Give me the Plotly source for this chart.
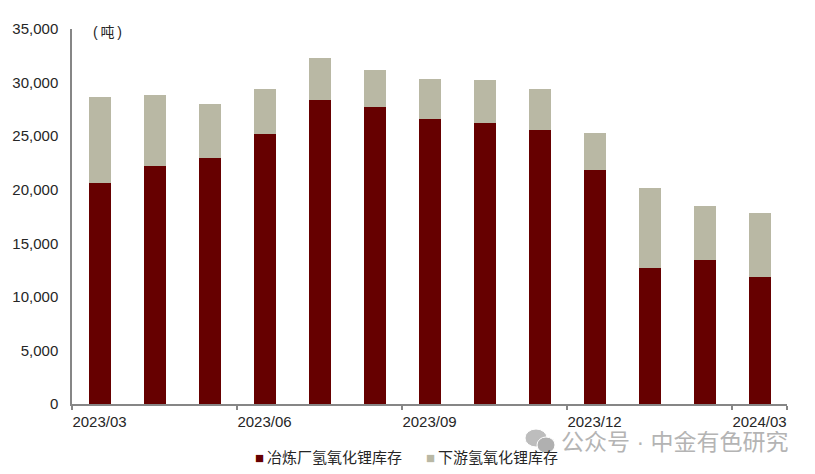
import plotly.graph_objects as go

months = ["2023/03","2023/04","2023/05","2023/06","2023/07","2023/08","2023/09","2023/10","2023/11","2023/12","2024/01","2024/02","2024/03"]
tick_labels = ["2023/03","2023/06","2023/09","2023/12","2024/03"]
smelter = [20600,22200,23000,25200,28400,27700,26600,26200,25600,21800,12700,13400,11900]
downstream = [8050,6650,5000,4200,3900,3500,3700,4000,3800,3500,7450,5100,5950]
name_a = "冶炼厂氢氧化锂库存"
name_b = "下游氢氧化锂库存"
RED = "#660000"
GREY = "#B9B8A4"
AX = "#868686"
TXT = "#262626"
LAT = "Liberation Sans, Arial, sans-serif"
CJK = "Liberation Sans, Noto Sans CJK SC, sans-serif"

fig = go.Figure()
fig.add_bar(x=months, y=smelter, name=name_a, marker=dict(color=RED, line=dict(width=0)), width=0.4)
fig.add_bar(x=months, y=downstream, name=name_b, marker=dict(color=GREY, line=dict(width=0)), width=0.4)

OFF = 8  # page body margin
W, H = 815-2*OFF, 474-2*OFF
L, R, T, B = 72, 787, 29, 404
fig.update_layout(
    width=W, height=H, barmode="stack", showlegend=False,
    paper_bgcolor="white", plot_bgcolor="white",
    margin=dict(l=L-OFF, r=W-(R-OFF), t=T-OFF, b=H-(B-OFF), autoexpand=False),
    font=dict(family=LAT, size=15, color=TXT),
    xaxis=dict(type="category", range=[-0.5,12.5], tickson="boundaries", automargin=False,
               tickmode="array", tickvals=months[::3], ticktext=tick_labels,
               ticks="outside", ticklen=4, tickcolor=AX, tickwidth=1.5,
               showline=True, linecolor=AX, linewidth=1.5, showgrid=False,
               tickfont=dict(size=15, color=TXT), tickangle=0, ticklabelstandoff=3),
    yaxis=dict(range=[0,35000], tick0=0, dtick=5000, tickformat=",d", automargin=False,
               ticks="", showline=True, linecolor=AX, linewidth=1.5, showgrid=False,
               zeroline=False, tickfont=dict(size=15, color=TXT), ticklabelstandoff=9),
)
def note(x, y, text, size=15, color=TXT, anchor="left", **kw):
    fig.add_annotation(xref="paper", yref="paper", x=(x-L)/(R-L), y=(B-y)/(B-T), text=text,
                       showarrow=False, xanchor=anchor, yanchor="middle",
                       font=dict(size=size, color=color, family=CJK), **kw)
note(91, 32, "(\u2009吨\u2009)", 14)
note(253, 457, f"<span style='color:{RED}'>■</span>\u2009{name_a}", 15)
note(424, 457, f"<span style='color:{GREY}'>■</span>\u2009{name_b}", 15)
note(559, 442, "公众号 · 中金有色研究", 23, "#B4B4B4", height=22)
for cx, cy, rx, ry, c in [(536,438,11,9,"#BDBDBD"),(546,445,9,8,"#B0B0B0")]:
    fig.add_shape(type="circle", xref="paper", yref="paper", layer="above",
                  x0=(cx-rx-L)/(R-L), x1=(cx+rx-L)/(R-L), y0=(B-cy-ry)/(B-T), y1=(B-cy+ry)/(B-T),
                  fillcolor=c, line=dict(color="white", width=1))
fig.write_html("out.html")
